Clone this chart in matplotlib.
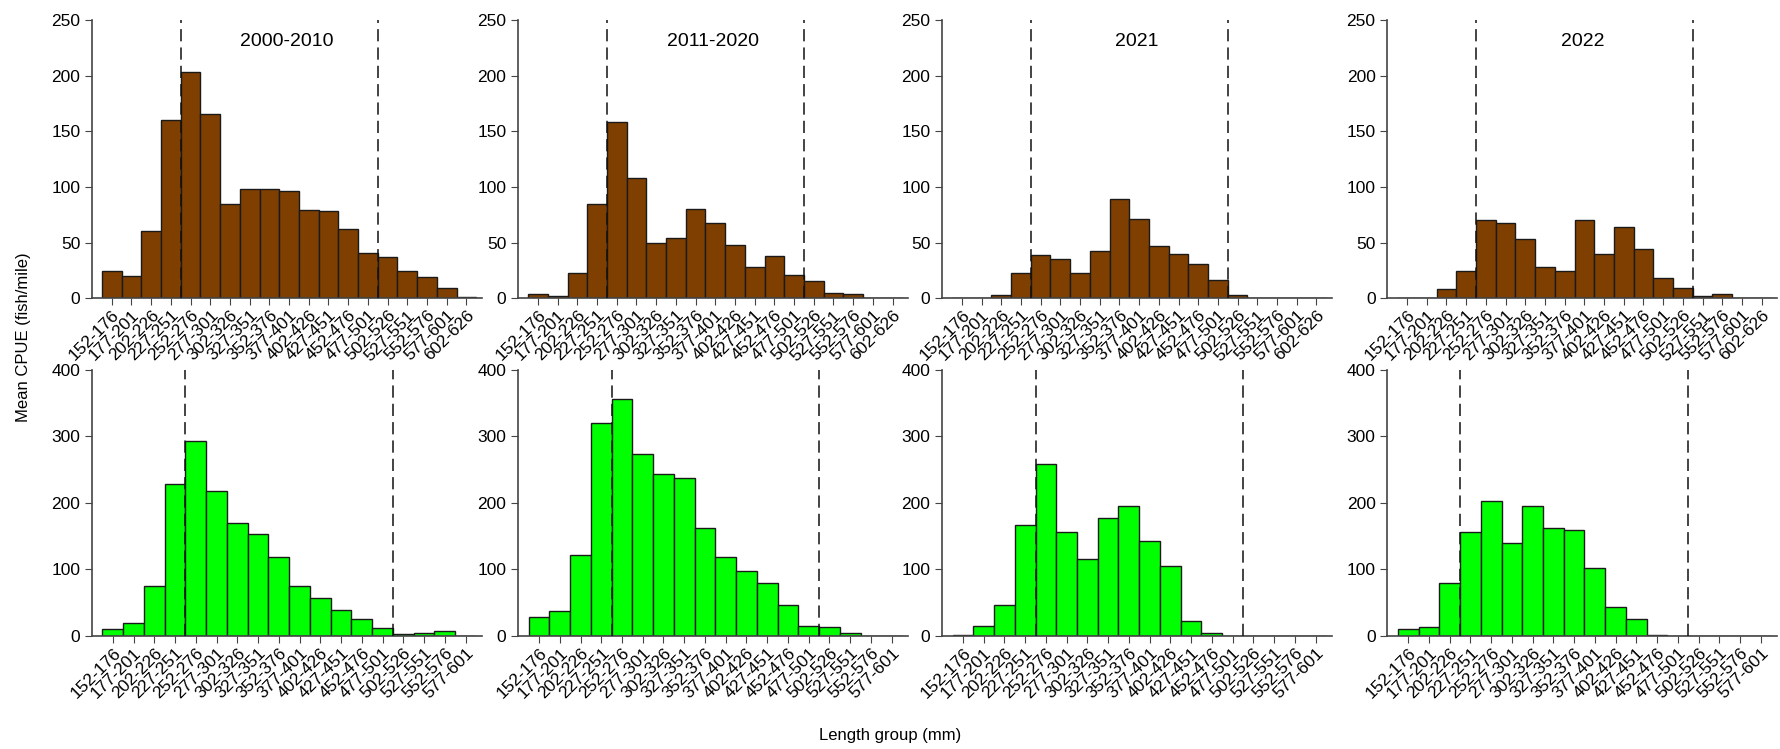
import numpy as np
import matplotlib
matplotlib.use("Agg")
import matplotlib.pyplot as plt

plt.rcParams['font.family'] = ['Liberation Sans', 'DejaVu Sans']

# Length groups
top_groups = [f"{s}-{s + 24}" for s in range(152, 603, 25)]     # 152-176 .. 602-626
bottom_groups = [f"{s}-{s + 24}" for s in range(152, 578, 25)]  # 152-176 .. 577-601

periods = ['2000-2010', '2011-2020', '2021', '2022']

# Top row (brown) mean CPUE
top_2000_2010 = [24, 20, 60, 160, 203, 166, 85, 98, 98, 96, 79, 78, 62, 41, 37, 24, 19, 9, 1]
top_2011_2020 = [4, 2, 23, 85, 158, 108, 50, 54, 80, 68, 48, 28, 38, 21, 15, 5, 4, 0, 0]
top_2021 = [0, 0, 3, 23, 39, 35, 23, 42, 89, 71, 47, 40, 31, 16, 3, 0, 0, 0, 0]
top_2022 = [0, 0, 8, 24, 70, 68, 53, 28, 24, 70, 40, 64, 44, 18, 9, 2, 4, 0, 0]

# Bottom row (green) mean CPUE
bot_2000_2010 = [10, 20, 75, 228, 293, 218, 170, 153, 118, 75, 57, 39, 26, 12, 3, 5, 8, 0]
bot_2011_2020 = [28, 38, 122, 320, 357, 273, 243, 237, 163, 118, 97, 80, 47, 15, 13, 5, 0, 0]
bot_2021 = [2, 15, 47, 167, 258, 157, 115, 177, 195, 143, 105, 23, 5, 0, 0, 0, 0, 0]
bot_2022 = [11, 14, 80, 157, 203, 140, 195, 163, 160, 102, 43, 25, 2, 0, 0, 0, 0, 0]

# Dashed reference lines (bin boundaries, 0-indexed)
top_cuts = [(3.5, 13.5), (3.5, 13.5), (3.5, 13.5), (3.5, 14.5)]
bot_cuts = [(3.5, 13.5), (3.5, 13.5), (3.5, 13.5), (2.5, 13.5)]

top_series = [top_2000_2010, top_2011_2020, top_2021, top_2022]
bot_series = [bot_2000_2010, bot_2011_2020, bot_2021, bot_2022]

fig = plt.figure(figsize=(17.81, 7.49), dpi=100)

lefts = [0.0517, 0.291, 0.529, 0.779]
width = 0.219
spine_col = '#444444'


def draw(ax, groups, vals, color, cuts, ymax, yticks):
    x = np.arange(len(groups))
    ax.bar(x, vals, width=1.0, color=color, edgecolor='#1a1a1a', linewidth=1.0, zorder=2)
    for c in cuts:
        ax.axvline(c, color='#111111', linestyle=(0, (8, 4)), linewidth=1.1, zorder=3)
    ax.set_xlim(-1, len(groups) - 0.2)
    ax.set_ylim(0, ymax)
    ax.set_yticks(yticks)
    ax.set_xticks(x)
    ax.set_xticklabels(groups, rotation=45, ha='right', rotation_mode='anchor', fontsize=12.5)
    ax.tick_params(axis='y', labelsize=12.5, color=spine_col, length=5)
    ax.tick_params(axis='x', color=spine_col, length=5, pad=2)
    for s in ['top', 'right']:
        ax.spines[s].set_visible(False)
    for s in ['left', 'bottom']:
        ax.spines[s].set_color(spine_col)
        ax.spines[s].set_linewidth(1.2)


for i in range(4):
    ax = fig.add_axes([lefts[i], 0.602, width, 0.371])
    draw(ax, top_groups, top_series[i], '#7F3F00', top_cuts[i], 250, [0, 50, 100, 150, 200, 250])
    ax.text(0.5, 0.925, periods[i], transform=ax.transAxes, ha='center', va='center', fontsize=14)

    ax = fig.add_axes([lefts[i], 0.151, width, 0.355])
    draw(ax, bottom_groups, bot_series[i], '#00FF00', bot_cuts[i], 400, [0, 100, 200, 300, 400])

fig.text(0.009, 0.55, 'Mean CPUE (fish/mile)', rotation=90, ha='left', va='center', fontsize=12)
fig.text(0.5, 0.018, 'Length group (mm)', ha='center', va='center', fontsize=12)

fig.savefig('out.png', dpi=100)
